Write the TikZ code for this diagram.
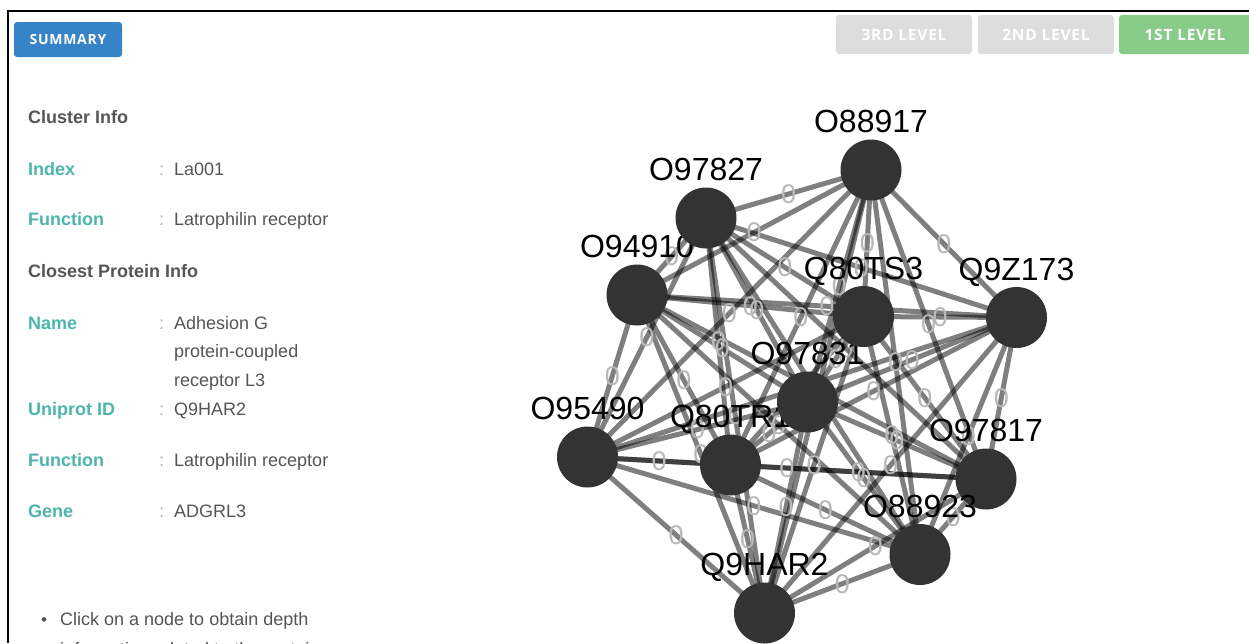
\documentclass[tikz,border=0pt]{standalone}
\usepackage{fontspec}
\setmainfont{Liberation Sans}
\newfontfamily\btnfont[LetterSpace=5]{Open Sans}
\usetikzlibrary{calc}

\definecolor{teal2}{RGB}{77,182,172}
\definecolor{txtgray}{RGB}{85,85,85}
\definecolor{colgray}{RGB}{175,175,175}
\definecolor{nodegray}{RGB}{51,51,51}
\definecolor{btnblue}{RGB}{54,131,199}
\definecolor{btngray}{RGB}{221,221,221}
\definecolor{btngreen}{RGB}{137,204,137}

\pgfdeclarelayer{paper}
\pgfdeclarelayer{edges}
\pgfsetlayers{paper,edges,main}

\tikzset{
  vert/.style={circle, fill=nodegray, minimum size=61pt, inner sep=0pt, outer sep=0pt},
  lbl/.style={font=\fontsize{32}{32}\selectfont, anchor=base, inner sep=0pt, text=black},
  edge/.style={line width=5pt, draw=black, draw opacity=0.5},
  zero/.style={font=\fontsize{27}{27}\selectfont, text=black!28, inner sep=0pt},
  key/.style={font=\fontsize{18}{22}\selectfont\bfseries, text=teal2, anchor=base west, inner sep=0pt},
  head/.style={font=\fontsize{18}{22}\selectfont\bfseries, text=txtgray, anchor=base west, inner sep=0pt},
  val/.style={font=\fontsize{18}{22}\selectfont, text=txtgray, anchor=base west, inner sep=0pt},
  sep/.style={font=\fontsize{18}{22}\selectfont, text=colgray, anchor=base west, inner sep=0pt},
  btn/.style={rectangle, rounded corners=3pt, text=white, inner sep=0pt,
              font=\btnfont\bfseries\fontsize{14}{14}\selectfont},
}

% protein node: its name is set first, so that nodes placed later may cover it
\newcommand\protnode[3]{%
  \node[lbl, yshift=37.5pt] at (#2) {#3};
  \node[vert] (#1) at (#2) {};
}

\begin{document}
\begin{tikzpicture}[x=1pt, y=-1pt]
\begin{pgfonlayer}{paper}
  \fill[white] (0,0) rectangle (1249,643);
\end{pgfonlayer}
\useasboundingbox (0,0) rectangle (1249,643);

% panel frame
\draw[line width=2.2pt, black] (8,643) -- (8,11) -- (1249,11);

% buttons
\node[btn, fill=btnblue, minimum width=108pt, minimum height=35pt] (summary) at (68,39.5) {SUMMARY};
\node[btn, fill=btngray, minimum width=136pt, minimum height=39pt,
      font=\btnfont\bfseries\fontsize{15.5}{15.5}\selectfont] (lvl3) at (904,34.5) {3RD LEVEL};
\node[btn, fill=btngray, minimum width=136pt, minimum height=39pt,
      font=\btnfont\bfseries\fontsize{15.5}{15.5}\selectfont] (lvl2) at (1046,34.5) {2ND LEVEL};
\node[btn, fill=btngreen, minimum width=132pt, minimum height=39pt,
      font=\btnfont\bfseries\fontsize{15.5}{15.5}\selectfont] (lvl1) at (1185,34.5) {1ST LEVEL};

% information panel
\node[head] (hcluster) at (28,123.5) {Cluster Info};
\node[key] (kindex) at (28,175) {Index};
\node[sep] (sindex) at (159,175) {:};
\node[val] (vindex) at (174,175) {La001};
\node[key] (kfunc) at (28,225.5) {Function};
\node[sep] (sfunc) at (159,225.5) {:};
\node[val] (vfunc) at (174,225.5) {Latrophilin receptor};
\node[head] (hprot) at (28,277) {Closest Protein Info};
\node[key] (kname) at (28,329.5) {Name};
\node[sep] (sname) at (159,329.5) {:};
\node[val] (vname1) at (174,329.5) {Adhesion G};
\node[val] (vname2) at (174,357.5) {protein-coupled};
\node[val] (vname3) at (174,386.5) {receptor L3};
\node[key] (kuni) at (28,415) {Uniprot ID};
\node[sep] (suni) at (159,415) {:};
\node[val] (vuni) at (174,415) {Q9HAR2};
\node[key] (kfunc2) at (28,466) {Function};
\node[sep] (sfunc2) at (159,466) {:};
\node[val] (vfunc2) at (174,466) {Latrophilin receptor};
\node[key] (kgene) at (28,517) {Gene};
\node[sep] (sgene) at (159,517) {:};
\node[val] (vgene) at (174,517) {ADGRL3};

\begin{scope}
  \clip (0,0) rectangle (1249,643);
  \node[val, font=\fontsize{17}{17}\selectfont] (bullet) at (41,625) {\textbullet};
  \node[val] (hint1) at (60,625) {Click on a node to obtain depth};
  \node[val] (hint2) at (60,655) {information related to the protein};
\end{scope}

% proteins of the cluster
\protnode{o94910}{637,295}{O94910}
\protnode{o97827}{706,218}{O97827}
\protnode{o88917}{871,170}{O88917}
\protnode{q80tr1}{730.5,465}{Q80TR1}
\protnode{o97831}{807.5,402}{O97831}
\protnode{q80ts3}{863.5,316.5}{Q80TS3}
\protnode{q9z173}{1016.5,317.5}{Q9Z173}
\protnode{o95490}{587.5,457}{O95490}
\protnode{o97817}{986,479}{O97817}
\protnode{o88923}{920,554.5}{O88923}
\protnode{q9har2}{764.5,613}{Q9HAR2}

% every pair of proteins is linked, with a weight of 0
\def\prots{o94910,o97827,o88917,q80tr1,o97831,q80ts3,q9z173,o95490,o97817,o88923,q9har2}
\begin{pgfonlayer}{edges}
  \foreach \a [count=\ia] in \prots {
    \foreach \b [count=\ib] in \prots {
      \ifnum\ib>\ia
        \draw[edge] (\a.center) -- (\b.center);
      \fi
    }
  }
  \foreach \a [count=\ia] in \prots {
    \foreach \b [count=\ib] in \prots {
      \ifnum\ib>\ia
        \path (\a.center) -- node[zero] {0} (\b.center);
      \fi
    }
  }
\end{pgfonlayer}
\end{tikzpicture}
\end{document}
